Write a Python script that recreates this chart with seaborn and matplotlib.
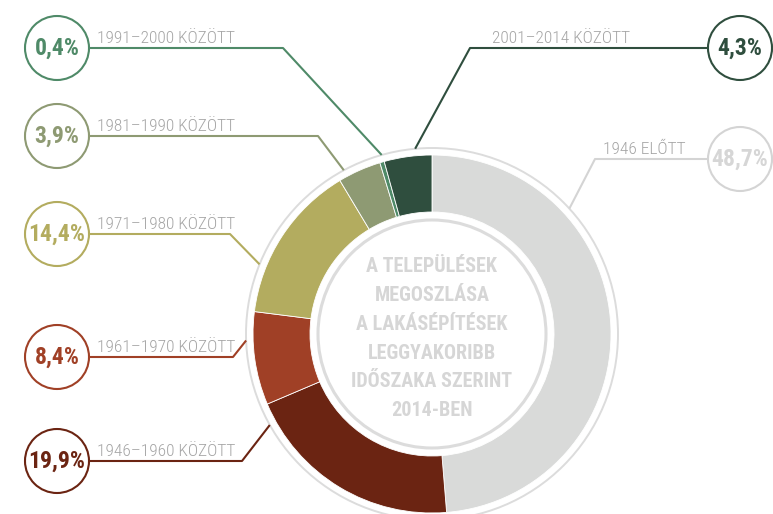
import numpy as np
import matplotlib
matplotlib.use("Agg")
import matplotlib.pyplot as plt
from matplotlib.patches import Circle
import seaborn as sns

# ── data ────────────────────────────────────────────────────────────────────
periods = ["1946 ELŐTT", "1946–1960 KÖZÖTT", "1961–1970 KÖZÖTT",
           "1971–1980 KÖZÖTT", "1981–1990 KÖZÖTT", "1991–2000 KÖZÖTT",
           "2001–2014 KÖZÖTT"]
shares = [48.7, 19.9, 8.4, 14.4, 3.9, 0.4, 4.3]
center_title = ["A TELEPÜLÉSEK", "MEGOSZLÁSA", "A LAKÁSÉPÍTÉSEK",
                "LEGGYAKORIBB", "IDŐSZAKA SZERINT", "2014-BEN"]

colors = ["#d9dad9", "#6b2412", "#a04026", "#b3ac5f",
          "#8e9a73", "#4f8a68", "#2f4e3e"]

# ── layout (pixel coords, y measured from top) ──────────────────────────────
W, H = 773, 514
cx, cy = 432, 180          # donut centre (y from bottom)
r_out, r_width = 179, 57
badge_x = [740, 57, 57, 57, 57, 57, 740]
line_y = [159, 461, 357, 234, 136, 48, 48]
elbow_x = [595, 242, 233, 230, 318, 283, 470]
leader_deg = [47.6, 240.7, 268, 292, 331.7, 344.3, 354.8]   # clockwise from top
label_x = [686, 97, 97, 97, 97, 97, 630]
label_ha = ["right", "left", "left", "left", "left", "left", "right"]
line_colors = ["#d4d4d4"] + colors[1:]
text_colors = ["#d6d6d6"] + colors[1:]

sns.set_theme(style="white")
plt.rcParams["font.family"] = ["Roboto Condensed", "DejaVu Sans Condensed",
                               "DejaVu Sans"]
plt.rcParams["font.stretch"] = "condensed"

fig = plt.figure(figsize=(W / 100, H / 100), dpi=100)
ax = fig.add_axes([0, 0, 1, 1])

ax.pie(shares, colors=colors, center=(cx, cy), radius=r_out,
       startangle=90, counterclock=False,
       wedgeprops=dict(width=r_width, edgecolor="white", linewidth=0.6))

# thin outer ring and inner ring
ax.add_patch(Circle((cx, cy), 186, fill=False, ec="#dcdcdc", lw=1.4))
ax.add_patch(Circle((cx, cy), 114, fill=False, ec="#dcdcdc", lw=2.2))

# centre title
for i, line in enumerate(center_title):
    ax.text(cx, cy + 67 - i * 28.7, line, ha="center", va="center",
            fontsize=14.5, fontweight="bold", color="#d6d6d6")

# badges, labels and leader lines
for i, (name, val) in enumerate(zip(periods, shares)):
    ly = H - line_y[i]
    bx = badge_x[i]
    side = 1 if bx < cx else -1
    a = np.radians(90 - leader_deg[i])
    ex, ey = cx + 186 * np.cos(a), cy + 186 * np.sin(a)
    ax.plot([bx + side * 32, elbow_x[i], ex], [ly, ly, ey],
            color=line_colors[i], lw=1.5, solid_capstyle="butt", zorder=1)
    ax.add_patch(Circle((bx, ly), 32, fc="white", ec=line_colors[i],
                        lw=1.5, zorder=2))
    ax.text(bx, ly, f"{val:.1f}%".replace(".", ","), ha="center",
            va="center", fontsize=17, fontweight="bold",
            color=text_colors[i], zorder=3)
    ax.text(label_x[i], ly + 5, name, ha=label_ha[i], va="baseline",
            fontsize=12.5, fontweight="light", color="#a5a5a5")

ax.set_xlim(0, W)
ax.set_ylim(0, H)
ax.set_aspect("equal")
ax.axis("off")

fig.savefig("out.png", dpi=100)
